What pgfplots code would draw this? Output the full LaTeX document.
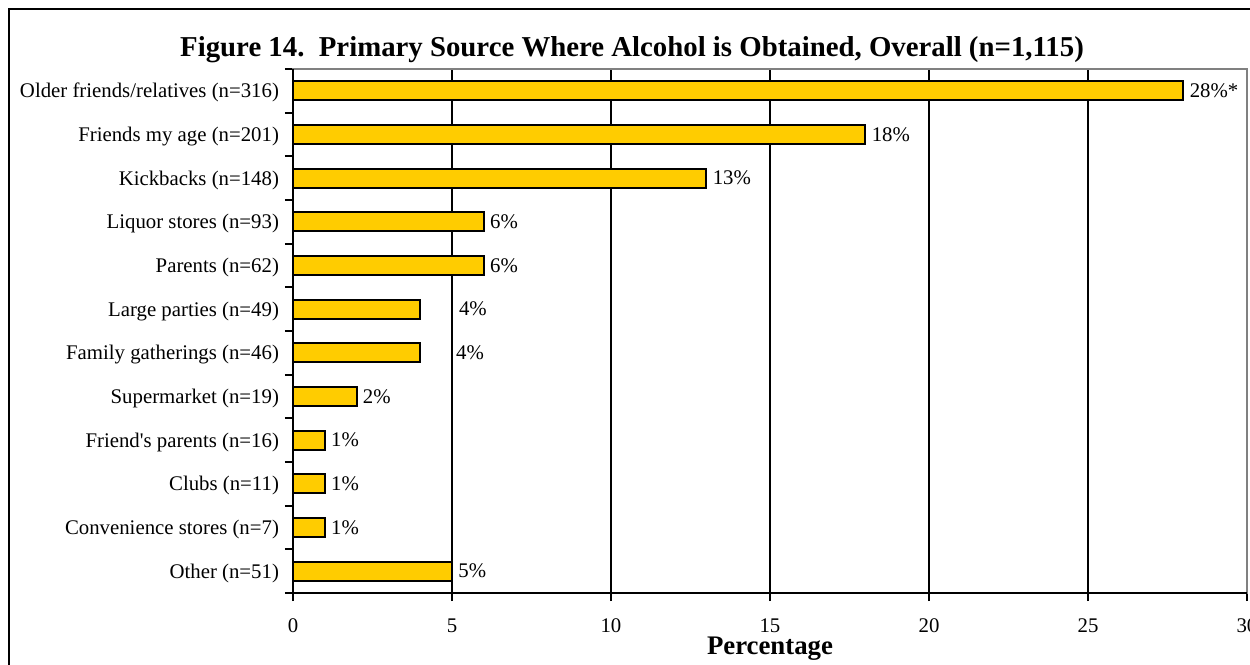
\documentclass[border=0pt]{standalone}
\usepackage{fontspec}
\setmainfont{Liberation Serif}[Ligatures=TeXOff]
\usepackage{pgfplots}
\pgfplotsset{compat=1.18}
\definecolor{Gold}{HTML}{FFCC00}
\definecolor{Frame}{HTML}{808080}
\begin{document}
\begin{tikzpicture}[x=0.5pt,y=-0.5pt]
\useasboundingbox (0,0) rectangle (1250,665);
\draw[line width=1.1pt] (9,665) -- (9,9) -- (1250,9);
\node[font=\bfseries\fontsize{14.4}{16}\selectfont] at (632,50) {Figure 14.\ \ Primary Source Where Alcohol is Obtained, Overall (n=1,115)};
\begin{axis}[at={(146.5pt,-296.5pt)},anchor=south west,scale only axis,
  width=477pt,height=262pt,
  xmin=0,xmax=30,ymin=0.5,ymax=12.5,y dir=reverse,
  axis line style={draw=Frame,line width=0.9pt},
  xtick={0,5,...,30},ytick={1,...,12},
  minor ytick={0.5,1.5,...,12.5},
  tick pos=left,tick align=outside,
  major tick length=4pt,minor tick length=4pt,
  every tick/.style={black,line width=0.9pt},
  major y tick style={draw=none},
  xmajorgrids,grid style={black,line width=0.9pt},
  yticklabels={Older friends/relatives (n=316),Friends my age (n=201),Kickbacks (n=148),Liquor stores (n=93),Parents (n=62),Large parties (n=49),Family gatherings (n=46),Supermarket (n=19),Friend's parents (n=16),Clubs (n=11),Convenience stores (n=7),Other (n=51)},
  yticklabel style={font=\fontsize{10.4}{12}\selectfont,xshift=0.5pt,yshift=-1pt},
  xticklabel style={font=\fontsize{10.4}{12}\selectfont,yshift=-5.5pt},
  /pgf/number format/assume math mode=true,
  xlabel={Percentage},
  xlabel style={font=\bfseries\fontsize{13.4}{15}\selectfont,yshift=5pt},
  clip=false]
  \addplot[xbar,bar width=9.5pt,fill=Gold,draw=black,line width=1pt]
    coordinates {(28,1) (18,2) (13,3) (6,4) (6,5) (4,6) (4,7) (2,8) (1,9) (1,10) (1,11) (5,12)};
  \addplot[draw=none,mark=none,nodes near coords,point meta=explicit symbolic,
    every node near coord/.style={anchor=west,inner sep=0pt,xshift=3pt,
      font=\fontsize{10.4}{12}\selectfont}]
    coordinates {(28,1) [28\%*] (18,2) [18\%] (13,3) [13\%] (6,4) [6\%] (6,5) [6\%]
      (5.02,6) [4\%] (4.93,7) [4\%] (2,8) [2\%] (1,9) [1\%] (1,10) [1\%] (1,11) [1\%] (5,12) [5\%]};
  \draw[black,line width=0.9pt] (rel axis cs:0,1) -- (rel axis cs:0,0) -- (rel axis cs:1,0);
\end{axis}
\end{tikzpicture}
\end{document}
